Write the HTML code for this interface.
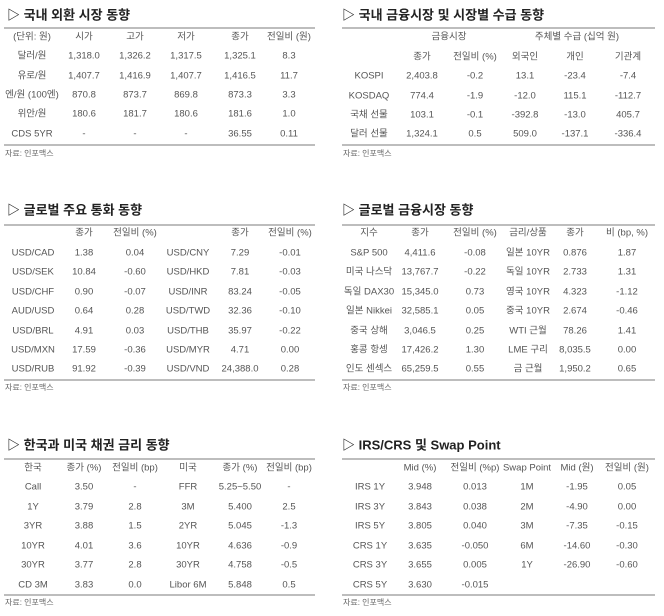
<!DOCTYPE html>
<html><head><meta charset="utf-8"><style>
body{margin:0;width:664px;height:616px;background:#fff;position:relative;overflow:hidden;font-family:"Liberation Sans","Noto Sans CJK KR",sans-serif;color:#444}
.t{position:absolute;font-size:13px;line-height:1;font-weight:bold;color:#222;white-space:nowrap;transform:translateY(-50%)}
.c{position:absolute;font-size:9.5px;line-height:1;white-space:nowrap;transform:translate(-50%,-50%);color:#555}
.l{position:absolute;height:2px;background:#bdbdbd}
.s{position:absolute;font-size:8px;line-height:1;color:#666;transform:translateY(-50%)}
</style></head><body>
<script>
const R=document.body;
function t(x,y,s){const d=document.createElement('div');d.className='t';d.style.left=x+'px';d.style.top=y+'px';d.textContent='▷ '+s;R.appendChild(d);}
function l(x,y,w){const d=document.createElement('div');d.className='l';d.style.left=x+'px';d.style.top=y+'px';d.style.width=w+'px';R.appendChild(d);}
function s(x,y){const d=document.createElement('div');d.className='s';d.style.left=x+'px';d.style.top=y+'px';d.textContent='자료: 인포맥스';R.appendChild(d);}
function row(xs,y,vals){vals.forEach((v,i)=>{if(v==='')return;const d=document.createElement('div');d.className='c';d.style.left=xs[i]+'px';d.style.top=y+'px';d.textContent=v;R.appendChild(d);});}
t(7,15,'국내 외환 시장 동향');l(4,27,311);l(4,144,311);s(5,154);
let X=[32,84,135,186,240,289];
let Y=[37,56,76,95,114,134];
[['(단위: 원)','시가','고가','저가','종가','전일비 (원)'],['달러/원','1,318.0','1,326.2','1,317.5','1,325.1','8.3'],['유로/원','1,407.7','1,416.9','1,407.7','1,416.5','11.7'],['엔/원 (100엔)','870.8','873.7','869.8','873.3','3.3'],['위안/원','180.6','181.7','180.6','181.6','1.0'],['CDS 5YR','-','-','-','36.55','0.11']].forEach((r,i)=>row(X,Y[i],r));
t(342,15,'국내 금융시장 및 시장별 수급 동향');l(342,27,313);l(342,144,313);s(343,154);
row([449,577],37,['금융시장','주체별 수급 (십억 원)']);
X=[369,422,475,525,575,628];Y=[57,76,96,115,134];
[['','종가','전일비 (%)','외국인','개인','기관계'],['KOSPI','2,403.8','-0.2','13.1','-23.4','-7.4'],['KOSDAQ','774.4','-1.9','-12.0','115.1','-112.7'],['국채 선물','103.1','-0.1','-392.8','-13.0','405.7'],['달러 선물','1,324.1','0.5','509.0','-137.1','-336.4']].forEach((r,i)=>row(X,Y[i],r));
t(7,210,'글로벌 주요 통화 동향');l(4,224,311);l(4,379,311);s(5,388);
X=[33,84,135,188,240,290];Y=[233,253,272,292,311,331,350,369];
[['','종가','전일비 (%)','','종가','전일비 (%)'],['USD/CAD','1.38','0.04','USD/CNY','7.29','-0.01'],['USD/SEK','10.84','-0.60','USD/HKD','7.81','-0.03'],['USD/CHF','0.90','-0.07','USD/INR','83.24','-0.05'],['AUD/USD','0.64','0.28','USD/TWD','32.36','-0.10'],['USD/BRL','4.91','0.03','USD/THB','35.97','-0.22'],['USD/MXN','17.59','-0.36','USD/MYR','4.71','0.00'],['USD/RUB','91.92','-0.39','USD/VND','24,388.0','0.28']].forEach((r,i)=>row(X,Y[i],r));
t(342,210,'글로벌 금융시장 동향');l(342,224,313);l(342,379,313);s(343,388);
X=[369,420,475,528,575,627];
[['지수','종가','전일비 (%)','금리/상품','종가','비 (bp, %)'],['S&P 500','4,411.6','-0.08','일본 10YR','0.876','1.87'],['미국 나스닥','13,767.7','-0.22','독일 10YR','2.733','1.31'],['독일 DAX30','15,345.0','0.73','영국 10YR','4.323','-1.12'],['일본 Nikkei','32,585.1','0.05','중국 10YR','2.674','-0.46'],['중국 상해','3,046.5','0.25','WTI 근월','78.26','1.41'],['홍콩 항셍','17,426.2','1.30','LME 구리','8,035.5','0.00'],['인도 센섹스','65,259.5','0.55','금 근월','1,950.2','0.65']].forEach((r,i)=>row(X,Y[i],r));
t(7,445,'한국과 미국 채권 금리 동향');l(4,458,311);l(4,594,311);s(5,603);
X=[33,84,135,188,240,289];Y=[468,487,507,526,546,565,585];
[['한국','종가 (%)','전일비 (bp)','미국','종가 (%)','전일비 (bp)'],['Call','3.50','-','FFR','5.25~5.50','-'],['1Y','3.79','2.8','3M','5.400','2.5'],['3YR','3.88','1.5','2YR','5.045','-1.3'],['10YR','4.01','3.6','10YR','4.636','-0.9'],['30YR','3.77','2.8','30YR','4.758','-0.5'],['CD 3M','3.83','0.0','Libor 6M','5.848','0.5']].forEach((r,i)=>row(X,Y[i],r));
t(342,445,'IRS/CRS 및 Swap Point');l(342,458,313);l(342,594,313);s(343,603);
X=[370,420,475,527,577,627];
[['','Mid (%)','전일비 (%p)','Swap Point','Mid (원)','전일비 (원)'],['IRS 1Y','3.948','0.013','1M','-1.95','0.05'],['IRS 3Y','3.843','0.038','2M','-4.90','0.00'],['IRS 5Y','3.805','0.040','3M','-7.35','-0.15'],['CRS 1Y','3.635','-0.050','6M','-14.60','-0.30'],['CRS 3Y','3.655','0.005','1Y','-26.90','-0.60'],['CRS 5Y','3.630','-0.015','','','']].forEach((r,i)=>row(X,Y[i],r));
</script>
</body></html>
